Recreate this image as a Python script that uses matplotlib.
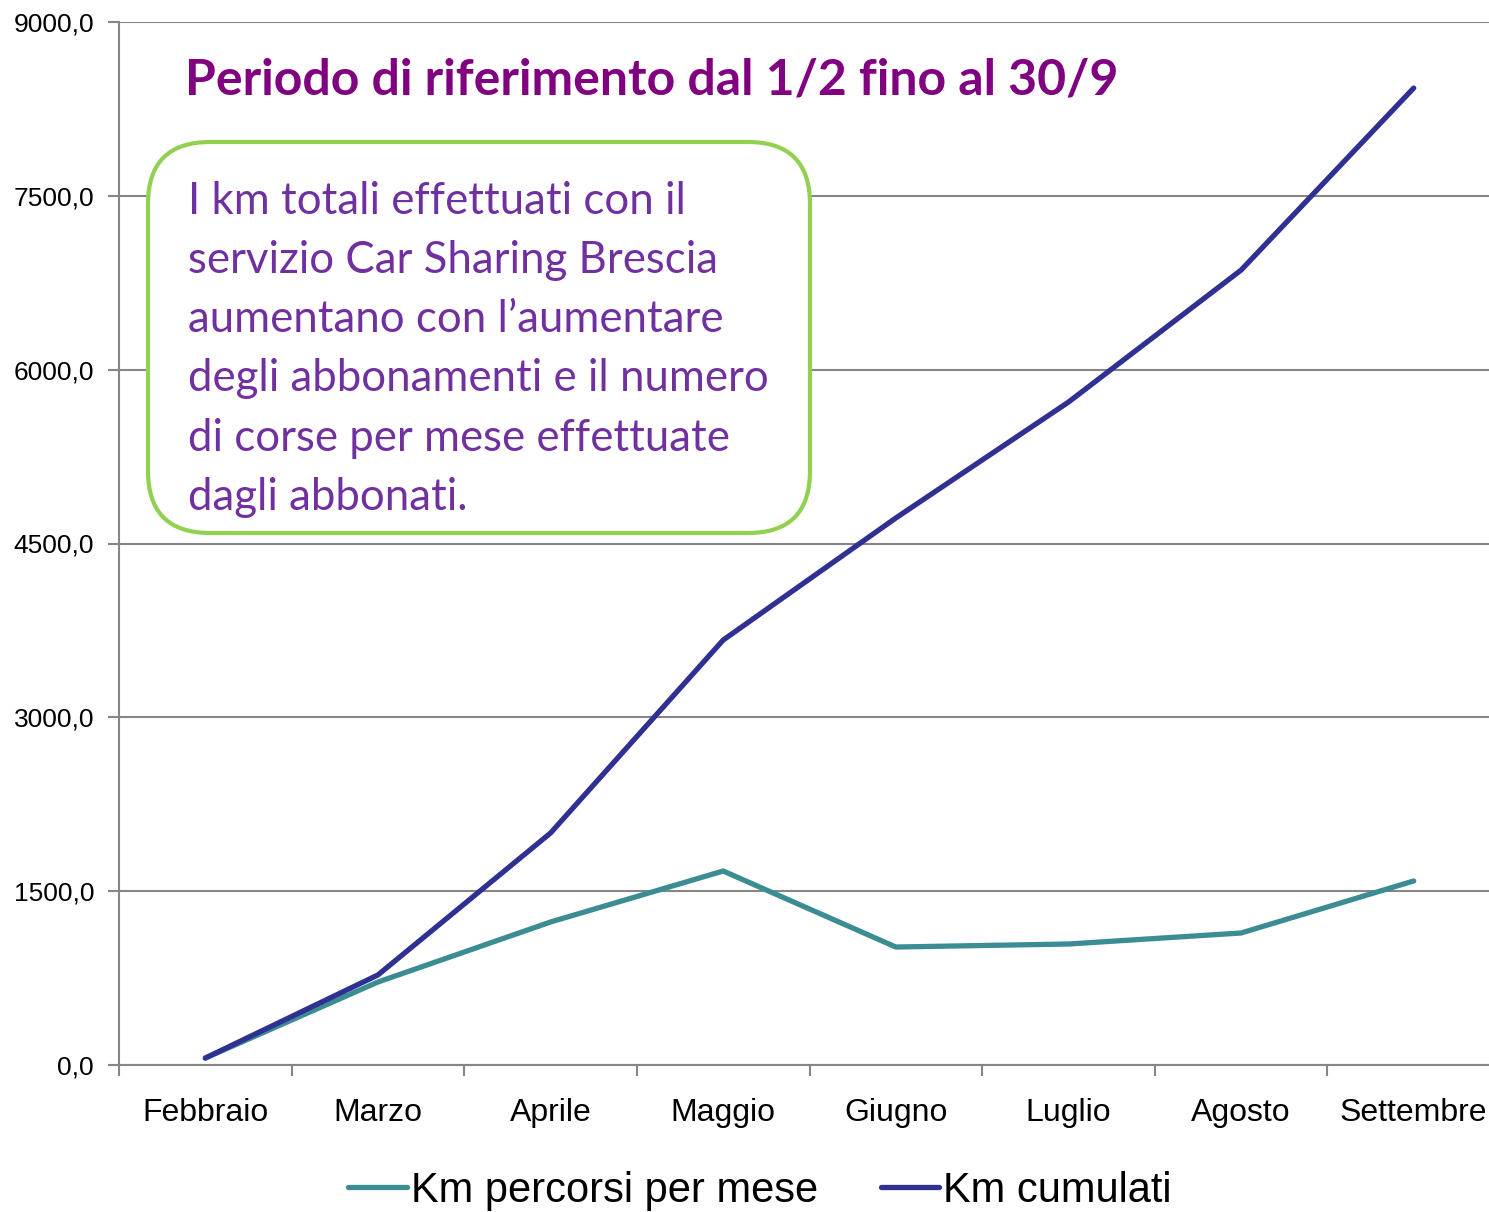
import numpy as np
import matplotlib.pyplot as plt
from matplotlib.patches import FancyBboxPatch

mesi = ['Febbraio', 'Marzo', 'Aprile', 'Maggio', 'Giugno', 'Luglio', 'Agosto', 'Settembre']
km_mese = [60, 716, 1234, 1674, 1018, 1044, 1139, 1588]
km_cumulati = [60, 777, 2002, 3667, 4720, 5720, 6859, 8430]
y_ticks = [0, 1500, 3000, 4500, 6000, 7500, 9000]

titolo = 'Periodo di riferimento dal 1/2 fino al 30/9'
nota = ('I km totali effettuati con il\n'
        'servizio Car Sharing Brescia\n'
        'aumentano con l\u2019aumentare\n'
        'degli abbonamenti e il numero\n'
        'di corse per mese effettuate\n'
        'dagli abbonati.')

W, H = 1489, 1212
fig = plt.figure(figsize=(W / 100, H / 100), dpi=100)
plt.rcParams['font.family'] = ['Liberation Sans', 'DejaVu Sans']

# axes box in pixel coords: left 119, right ~1500, top 22, bottom 1065
ax = fig.add_axes([119 / W, 1 - 1065 / H, (1500 - 119) / W, (1065 - 22) / H])

x = np.arange(len(mesi))
ax.plot(x, km_mese, color='#3C8D93', lw=3.8, solid_capstyle='round',
        label='Km percorsi per mese', zorder=3)
ax.plot(x, km_cumulati, color='#2E3192', lw=3.8, solid_capstyle='round',
        label='Km cumulati', zorder=4)

ax.set_xlim(-0.5, len(mesi) - 0.5)
ax.set_ylim(0, 9000)
ax.set_yticks(y_ticks)
ax.set_yticklabels([f'{v:.1f}'.replace('.', ',') for v in y_ticks], fontsize=19)
ax.set_xticks(np.arange(len(mesi) + 1) - 0.5, minor=False)
ax.set_xticklabels([])
ax.set_xticks(x, minor=True)
ax.set_xticklabels(mesi, minor=True, fontsize=23)
ax.tick_params(axis='x', which='minor', length=0, pad=24)
ax.tick_params(axis='x', which='major', length=8, width=1.5, color='#868686', direction='out')
ax.tick_params(axis='y', length=8, width=1.5, color='#868686', direction='out', pad=10)

ax.grid(axis='y', color='#868686', lw=1.5)
for s in ['top', 'right']:
    ax.spines[s].set_visible(False)
for s in ['left', 'bottom']:
    ax.spines[s].set_color('#868686')
    ax.spines[s].set_linewidth(1.5)

fig.text(185 / W, 1 - 80 / H, titolo, fontsize=36, fontweight='bold',
         color='#800080', family=['Lato', 'DejaVu Sans'], va='center', ha='left')

# rounded note box, in inches so corners stay circular
pad = 0.3
x0, x1 = 1.48, 8.10
y0, y1 = (H - 533) / 100, (H - 142) / 100
box = FancyBboxPatch((x0 + pad, y0 + pad), x1 - x0 - 2 * pad, y1 - y0 - 2 * pad,
                     boxstyle=f'round,pad={pad},rounding_size=0.62',
                     transform=fig.dpi_scale_trans, fc='white', ec='#92D050',
                     lw=3.0, zorder=5)
fig.add_artist(box)
fig.text(188 / W, 1 - 181 / H, nota, fontsize=31.5, color='#7030A0',
         family=['Lato', 'DejaVu Sans'], va='top', ha='left',
         linespacing=1.55, zorder=6)

fig.legend(loc='center', bbox_to_anchor=(760 / W, 1 - 1191 / H), ncol=2,
           frameon=False, fontsize=30, handlelength=1.4, handletextpad=0.1,
           columnspacing=1.5)

fig.savefig('out.png', dpi=100)
